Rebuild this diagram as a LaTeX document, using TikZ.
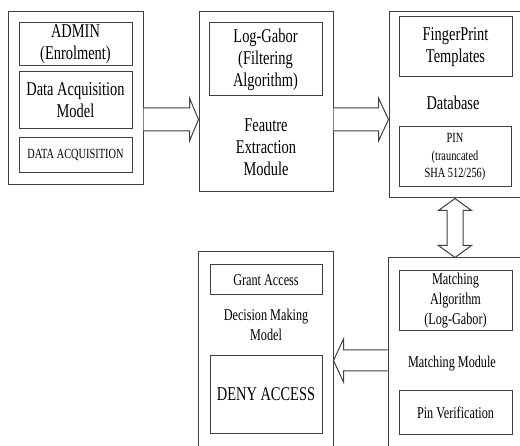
\documentclass[tikz,border=0pt]{standalone}
\usepackage{fontspec}
\setmainfont{Liberation Serif}[FakeStretch=0.74]
\usepackage{tikz}
\usetikzlibrary{calc}
\definecolor{edge}{HTML}{404040}

\newcommand{\bigtxt}{\fontsize{19.5}{22}\selectfont}
\newcommand{\midtxt}{\fontsize{16.5}{20}\selectfont}
\newcommand{\smalltxt}{\fontsize{14}{17.5}\selectfont}

\tikzset{
  outerbox/.style={draw=edge, line width=1pt, inner sep=0pt},
  innerbox/.style={draw=edge, line width=1pt, inner sep=0pt, minimum width=113pt, align=center},
  label/.style={inner sep=0pt, align=center},
  fatarrow/.style={draw=edge, line width=1pt, fill=white, line join=miter}
}

\begin{document}
\begin{tikzpicture}[x=1pt,y=1pt]
    \useasboundingbox (0,0) rectangle (520,445);
    \clip (0,0) rectangle (520,445);

    % Enrolment
    \node[outerbox, minimum width=135pt, minimum height=173pt] (enrol) at (75.5,346.5) {};
    \node[innerbox, minimum height=43pt, font=\bigtxt] (admin) at (75.5,400.5) {ADMIN\\(Enrolment)};
    \node[innerbox, minimum height=57pt, font=\bigtxt] (acqmodel) at (75.5,344.5) {Data Acquisition\\Model};
    \node[innerbox, minimum height=35pt, font=\smalltxt] (acq) at (75.5,289.5) {DATA ACQUISITION};

    % Feature extraction
    \node[outerbox, minimum width=134pt, minimum height=180pt] (extract) at (266,343) {};
    \node[innerbox, minimum height=73pt, font=\bigtxt] (loggabor) at (265.5,385.5) {Log-Gabor\\(Filtering\\Algorithm)};
    \node[label, font=\bigtxt] (extracttxt) at (266,298) {Feautre\\Extraction\\Module};

    % Database
    \node[outerbox, minimum width=141pt, minimum height=186pt] (db) at (459.5,340) {};
    \node[innerbox, minimum height=60pt, font=\bigtxt] (templates) at (455.5,398) {FingerPrint\\Templates};
    \node[label, font=\bigtxt] (dbtxt) at (453,342) {Database};
    \node[innerbox, minimum width=112pt, minimum height=60pt, font=\smalltxt] (pin) at (455,288) {PIN\\(trauncated\\SHA 512/256)};

    % Matching
    \node[outerbox, minimum width=142pt, minimum height=202pt] (match) at (459,86) {};
    \node[innerbox, minimum height=60pt, font=\midtxt] (matchalg) at (455.5,144) {Matching\\Algorithm\\(Log-Gabor)};
    \node[label, font=\midtxt] (matchtxt) at (452,81) {Matching Module};
    \node[innerbox, minimum height=43pt, font=\midtxt] (pinver) at (455.5,32.5) {Pin Verification};

    % Decision
    \node[outerbox, minimum width=135pt, minimum height=208pt] (decide) at (265.5,89) {};
    \node[innerbox, minimum width=112pt, minimum height=30pt, font=\midtxt] (grant) at (266,165) {Grant Access};
    \node[label, font=\midtxt] (decidetxt) at (266,120) {Decision Making\\Model};
    \node[innerbox, minimum width=112pt, minimum height=77pt, font=\bigtxt] (deny) at (266,50.5) {DENY ACCESS};

    % Arrows
    \coordinate (a1s) at (enrol.east |- 0,325.5);
    \coordinate (a1e) at (extract.west |- a1s);
    \draw[fatarrow] ($(a1s)+(0,11.5)$) -- ($(a1e)+(-9,11.5)$) -- ($(a1e)+(-9,21.5)$) -- (a1e)
        -- ($(a1e)+(-9,-21.5)$) -- ($(a1e)+(-9,-11.5)$) -- ($(a1s)+(0,-11.5)$);

    \coordinate (a2s) at (extract.east |- 0,325.5);
    \coordinate (a2e) at (db.west |- a2s);
    \draw[fatarrow] ($(a2s)+(0,11.5)$) -- ($(a2e)+(-10,11.5)$) -- ($(a2e)+(-10,21.5)$) -- (a2e)
        -- ($(a2e)+(-10,-21.5)$) -- ($(a2e)+(-10,-11.5)$) -- ($(a2s)+(0,-11.5)$);

    \coordinate (a3s) at (db.south -| 455,0);
    \coordinate (a3e) at (match.north -| a3s);
    \draw[fatarrow] (a3s) -- ($(a3s)+(16.5,-12)$) -- ($(a3s)+(8,-12)$) -- ($(a3e)+(8,12)$)
        -- ($(a3e)+(16.5,12)$) -- (a3e) -- ($(a3e)+(-16.5,12)$) -- ($(a3e)+(-8,12)$)
        -- ($(a3s)+(-8,-12)$) -- ($(a3s)+(-16.5,-12)$) -- cycle;

    \coordinate (a4s) at (match.west |- 0,84.5);
    \coordinate (a4e) at (decide.east |- a4s);
    \draw[fatarrow] ($(a4s)+(0,10.5)$) -- ($(a4e)+(10,10.5)$) -- ($(a4e)+(10,21.5)$) -- (a4e)
        -- ($(a4e)+(10,-21.5)$) -- ($(a4e)+(10,-10.5)$) -- ($(a4s)+(0,-10.5)$);
\end{tikzpicture}
\end{document}
